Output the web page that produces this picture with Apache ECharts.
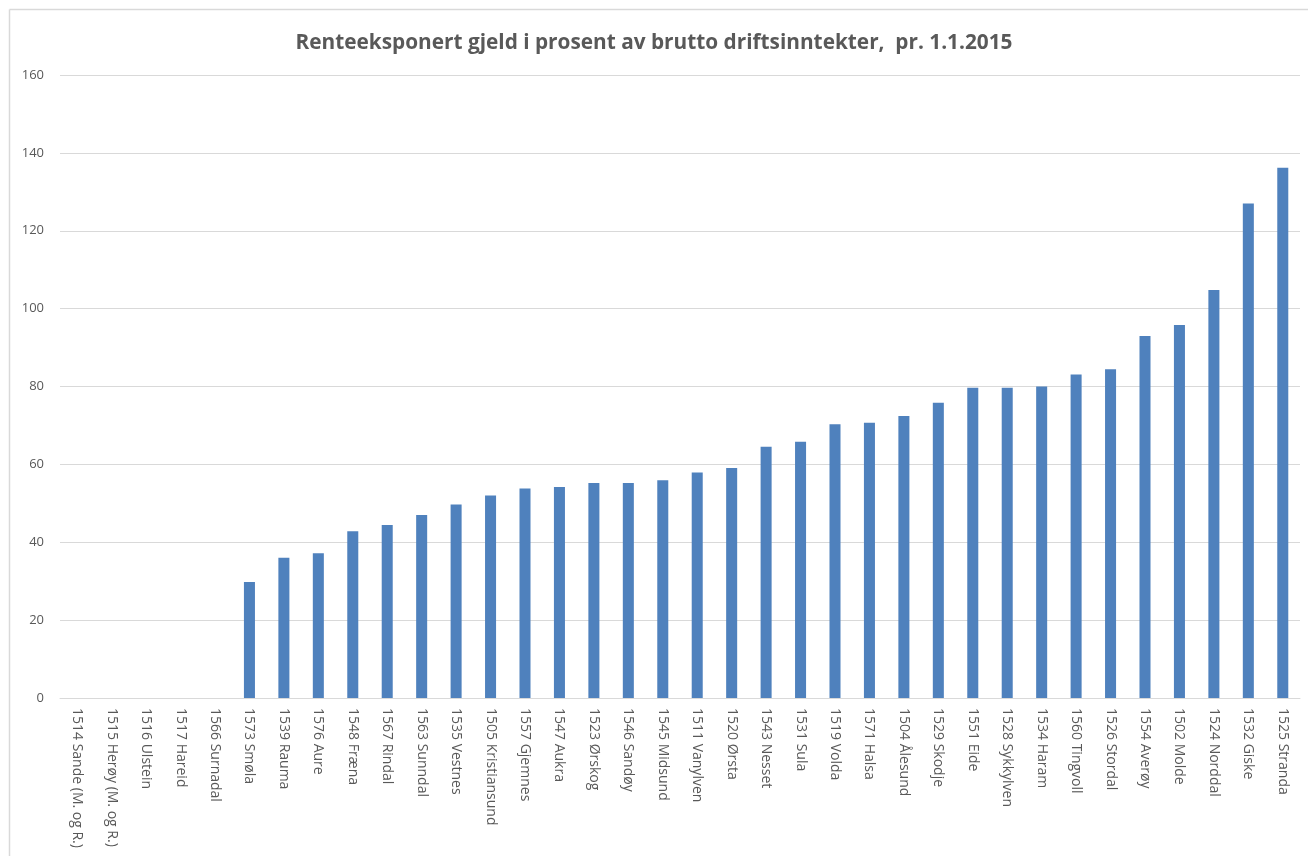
<!DOCTYPE html>
<html><head><meta charset="utf-8">
<script src="https://cdn.jsdelivr.net/npm/echarts@6/dist/echarts.min.js"></script>
<style>html,body{margin:0;padding:0;background:#fff}#c{width:1308px;height:856px}</style>
</head><body><div id="c"></div>
<script>
const categories = ["1514 Sande (M. og R.)","1515 Herøy (M. og R.)","1516 Ulstein","1517 Hareid","1566 Surnadal","1573 Smøla","1539 Rauma","1576 Aure","1548 Fræna","1567 Rindal","1563 Sunndal","1535 Vestnes","1505 Kristiansund","1557 Gjemnes","1547 Aukra","1523 Ørskog","1546 Sandøy","1545 Midsund","1511 Vanylven","1520 Ørsta","1543 Nesset","1531 Sula","1519 Volda","1571 Halsa","1504 Ålesund","1529 Skodje","1551 Eide","1528 Sykkylven","1534 Haram","1560 Tingvoll","1526 Stordal","1554 Averøy","1502 Molde","1524 Norddal","1532 Giske","1525 Stranda"];
const values = [0,0,0,0,0,29.8,36.0,37.2,42.8,44.4,47.0,49.7,52.0,53.8,54.2,55.2,55.2,55.9,57.9,59.1,64.5,65.8,70.3,70.7,72.4,75.8,79.7,79.7,80.0,83.1,84.4,93.0,95.8,104.8,127.0,136.2];
const yTicks = {min:0, max:160, interval:20};
const title = "Renteeksponert gjeld i prosent av brutto driftsinntekter,  pr. 1.1.2015";

const chart = echarts.init(document.getElementById('c'));
chart.setOption({
  backgroundColor:'#fff',
  animation:false,
  graphic:[
    {type:'line',shape:{x1:9.5,y1:9.5,x2:1308,y2:9.5},style:{stroke:'#d9d9d9',lineWidth:1.5}},
    {type:'line',shape:{x1:9.5,y1:9.5,x2:9.5,y2:856},style:{stroke:'#d9d9d9',lineWidth:1.5}}
  ],
  title:{text:title,left:'center',top:28,textStyle:{fontFamily:'Open Sans',fontSize:20.8,fontWeight:'bold',color:'#595959'}},
  grid:{left:60,right:8,top:75,bottom:158,containLabel:false},
  xAxis:{type:'category',data:categories,
    axisLine:{show:true,lineStyle:{color:'#d9d9d9'}},axisTick:{show:false},
    axisLabel:{rotate:-90,interval:0,color:'#595959',fontFamily:'Open Sans',fontSize:14,margin:10}},
  yAxis:{type:'value',min:yTicks.min,max:yTicks.max,interval:yTicks.interval,
    axisLine:{show:false},axisTick:{show:false},
    splitLine:{lineStyle:{color:'#d9d9d9',width:1}},
    axisLabel:{color:'#595959',fontFamily:'Open Sans',fontSize:13,margin:16}},
  series:[{type:'bar',data:values,barWidth:'32%',itemStyle:{color:'#4f81bd'}}]
});
</script></body></html>
